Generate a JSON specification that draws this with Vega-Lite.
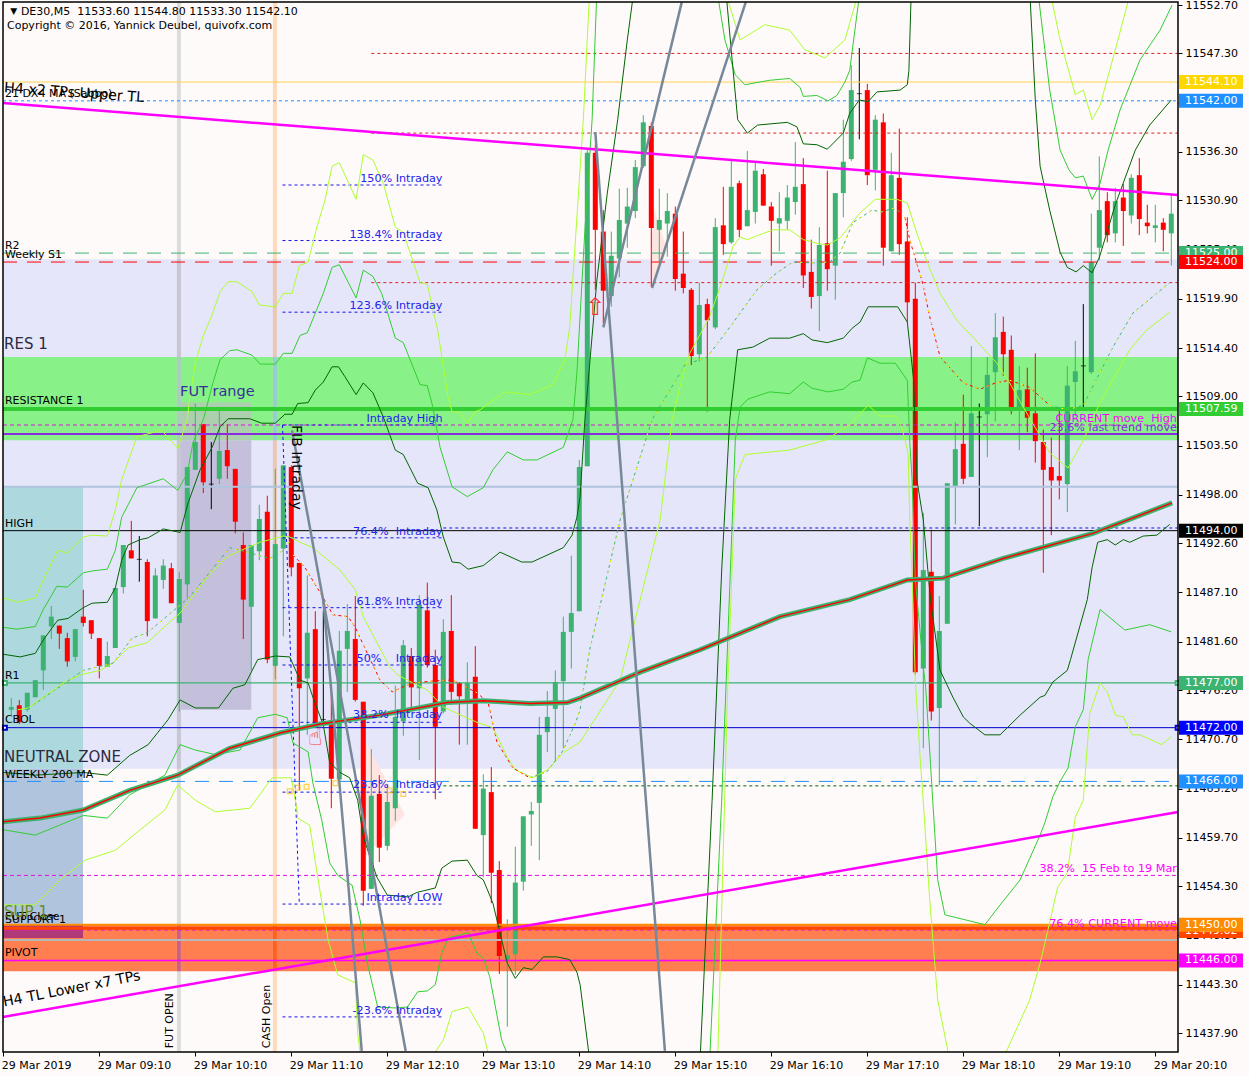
{
"$schema":"https://vega.github.io/schema/vega-lite/v6.json",
"width":1175,"height":1050,
"autosize":{"type":"none"},
"padding":{"left":3,"top":2,"right":71,"bottom":24},
"background":"#FFFAFA",
"config":{"view":{"stroke":null},"font":"DejaVu Sans","text":{"font":"DejaVu Sans"},"scale":{"continuousPadding":0}},
"datasets":{
"candles":[
{"i":1,"o":11474.0,"h":11475.3,"l":11473.4,"c":11474.3},{"i":2,"o":11474.5,"h":11475.1,"l":11472.4,"c":11472.6},{"i":3,"o":11474.0,"h":11475.9,"l":11473.8,"c":11475.9},{"i":4,"o":11475.4,"h":11477.3,"l":11475.4,"c":11477.3},{"i":5,"o":11478.4,"h":11482.3,"l":11476.2,"c":11482.3},
{"i":6,"o":11483.3,"h":11485.6,"l":11481.9,"c":11484.4},{"i":7,"o":11483.4,"h":11483.4,"l":11480.8,"c":11482.5},{"i":8,"o":11482.0,"h":11482.6,"l":11478.8,"c":11479.4},{"i":9,"o":11479.9,"h":11483.0,"l":11479.4,"c":11483.0},{"i":10,"o":11484.4,"h":11487.4,"l":11483.3,"c":11483.7},
{"i":11,"o":11484.0,"h":11484.0,"l":11481.9,"c":11482.5},{"i":12,"o":11482.0,"h":11482.0,"l":11477.5,"c":11478.9},{"i":13,"o":11478.8,"h":11481.6,"l":11478.8,"c":11480.0},{"i":14,"o":11480.9,"h":11487.6,"l":11480.9,"c":11487.6},{"i":15,"o":11487.7,"h":11492.4,"l":11487.0,"c":11492.4},
{"i":16,"o":11491.8,"h":11495.1,"l":11490.9,"c":11490.9},{"i":17,"o":11490.8,"h":11493.4,"l":11488.3,"c":11490.8},{"i":18,"o":11490.5,"h":11490.8,"l":11482.2,"c":11483.9},{"i":19,"o":11484.2,"h":11489.8,"l":11484.2,"c":11489.0},{"i":20,"o":11488.5,"h":11490.8,"l":11487.5,"c":11490.1},
{"i":21,"o":11489.8,"h":11490.4,"l":11485.9,"c":11485.9},{"i":22,"o":11483.7,"h":11489.4,"l":11473.8,"c":11488.6},{"i":23,"o":11488.0,"h":11501.1,"l":11486.3,"c":11501.1},{"i":24,"o":11500.8,"h":11508.2,"l":11500.8,"c":11503.9},{"i":25,"o":11505.9,"h":11505.9,"l":11498.2,"c":11499.4},
{"i":26,"o":11499.2,"h":11503.9,"l":11496.4,"c":11499.2},{"i":27,"o":11499.8,"h":11507.4,"l":11499.2,"c":11502.9},{"i":28,"o":11503.0,"h":11505.9,"l":11499.8,"c":11501.2},{"i":29,"o":11500.9,"h":11500.9,"l":11493.7,"c":11495.0},{"i":30,"o":11492.4,"h":11493.8,"l":11481.9,"c":11486.3},
{"i":31,"o":11485.5,"h":11492.4,"l":11478.4,"c":11492.4},{"i":32,"o":11491.7,"h":11496.9,"l":11490.7,"c":11495.3},{"i":33,"o":11496.1,"h":11497.9,"l":11479.2,"c":11479.6},{"i":34,"o":11478.9,"h":11500.9,"l":11477.4,"c":11492.5},{"i":35,"o":11492.0,"h":11501.3,"l":11482.2,"c":11501.3},
{"i":36,"o":11501.1,"h":11501.3,"l":11488.9,"c":11489.9},{"i":37,"o":11490.4,"h":11490.4,"l":11465.0,"c":11476.4},{"i":38,"o":11477.5,"h":11489.0,"l":11471.2,"c":11482.6},{"i":39,"o":11483.0,"h":11485.0,"l":11472.1,"c":11472.5},{"i":40,"o":11472.9,"h":11485.0,"l":11472.6,"c":11472.9},
{"i":41,"o":11472.8,"h":11477.0,"l":11463.0,"c":11466.3},{"i":42,"o":11466.2,"h":11482.8,"l":11465.4,"c":11480.6},{"i":43,"o":11480.8,"h":11485.8,"l":11476.0,"c":11482.8},{"i":44,"o":11481.9,"h":11486.7,"l":11474.9,"c":11475.1},{"i":45,"o":11474.9,"h":11474.9,"l":11452.1,"c":11453.8},
{"i":46,"o":11454.0,"h":11469.6,"l":11454.0,"c":11464.4},{"i":47,"o":11464.6,"h":11466.7,"l":11457.0,"c":11458.6},{"i":48,"o":11458.8,"h":11465.7,"l":11458.3,"c":11463.7},{"i":49,"o":11463.0,"h":11476.7,"l":11461.6,"c":11473.2},{"i":50,"o":11472.7,"h":11481.8,"l":11471.1,"c":11481.2},
{"i":51,"o":11480.0,"h":11480.9,"l":11474.0,"c":11476.5},{"i":52,"o":11476.4,"h":11486.8,"l":11468.4,"c":11485.7},{"i":53,"o":11485.1,"h":11488.2,"l":11478.7,"c":11479.0},{"i":54,"o":11479.0,"h":11480.7,"l":11464.0,"c":11472.1},{"i":55,"o":11473.8,"h":11484.1,"l":11473.6,"c":11482.7},
{"i":56,"o":11482.8,"h":11486.8,"l":11475.1,"c":11476.0},{"i":57,"o":11477.0,"h":11477.1,"l":11470.1,"c":11475.5},{"i":58,"o":11475.1,"h":11479.3,"l":11470.1,"c":11477.0},{"i":59,"o":11477.7,"h":11481.1,"l":11460.7,"c":11460.7},{"i":60,"o":11460.0,"h":11466.8,"l":11455.3,"c":11465.2},
{"i":61,"o":11464.8,"h":11467.6,"l":11452.4,"c":11455.8},{"i":62,"o":11456.1,"h":11457.1,"l":11444.5,"c":11446.5},{"i":63,"o":11446.1,"h":11450.6,"l":11438.6,"c":11446.6},{"i":64,"o":11446.7,"h":11458.7,"l":11444.4,"c":11454.7},{"i":65,"o":11454.8,"h":11462.1,"l":11453.8,"c":11462.1},
{"i":66,"o":11462.3,"h":11463.7,"l":11458.8,"c":11462.7},{"i":67,"o":11463.6,"h":11473.2,"l":11457.2,"c":11471.2},{"i":68,"o":11471.5,"h":11476.1,"l":11469.3,"c":11473.2},{"i":69,"o":11474.1,"h":11478.4,"l":11468.3,"c":11477.1},{"i":70,"o":11477.2,"h":11484.4,"l":11469.7,"c":11482.7},
{"i":71,"o":11482.7,"h":11491.2,"l":11478.6,"c":11484.8},{"i":72,"o":11485.0,"h":11501.9,"l":11485.0,"c":11501.1},{"i":73,"o":11501.2,"h":11536.5,"l":11501.2,"c":11536.2},{"i":74,"o":11536.2,"h":11537.1,"l":11520.9,"c":11527.6},{"i":75,"o":11527.4,"h":11529.8,"l":11517.2,"c":11520.8},
{"i":76,"o":11520.2,"h":11527.4,"l":11519.0,"c":11524.7},{"i":77,"o":11524.4,"h":11532.2,"l":11522.3,"c":11528.7},{"i":78,"o":11528.3,"h":11532.3,"l":11525.6,"c":11530.2},{"i":79,"o":11529.7,"h":11535.4,"l":11528.9,"c":11534.6},{"i":80,"o":11534.7,"h":11540.4,"l":11534.5,"c":11539.6},
{"i":81,"o":11539.2,"h":11539.6,"l":11521.2,"c":11527.8},{"i":82,"o":11527.6,"h":11532.2,"l":11523.9,"c":11528.7},{"i":83,"o":11528.3,"h":11531.7,"l":11524.6,"c":11529.7},{"i":84,"o":11529.4,"h":11530.2,"l":11520.8,"c":11522.1},{"i":85,"o":11522.7,"h":11527.4,"l":11520.5,"c":11521.1},
{"i":86,"o":11520.9,"h":11521.1,"l":11512.5,"c":11513.5},{"i":87,"o":11513.7,"h":11521.7,"l":11512.9,"c":11519.2},{"i":88,"o":11519.3,"h":11519.9,"l":11507.3,"c":11517.5},{"i":89,"o":11516.7,"h":11528.9,"l":11516.5,"c":11527.9},{"i":90,"o":11528.1,"h":11532.4,"l":11524.8,"c":11526.0},
{"i":91,"o":11526.2,"h":11535.4,"l":11526.0,"c":11532.4},{"i":92,"o":11532.8,"h":11533.1,"l":11526.8,"c":11527.6},{"i":93,"o":11528.0,"h":11536.4,"l":11528.0,"c":11529.8},{"i":94,"o":11529.6,"h":11535.1,"l":11528.3,"c":11534.2},{"i":95,"o":11533.8,"h":11534.4,"l":11530.3,"c":11530.3},
{"i":96,"o":11530.2,"h":11530.7,"l":11523.6,"c":11528.6},{"i":97,"o":11528.3,"h":11531.8,"l":11525.2,"c":11528.9},{"i":98,"o":11528.6,"h":11532.6,"l":11527.6,"c":11531.2},{"i":99,"o":11530.7,"h":11537.4,"l":11529.3,"c":11532.4},{"i":100,"o":11532.7,"h":11535.6,"l":11521.1,"c":11522.5},
{"i":101,"o":11522.9,"h":11526.5,"l":11518.8,"c":11520.1},{"i":102,"o":11520.2,"h":11527.9,"l":11516.3,"c":11525.9},{"i":103,"o":11526.1,"h":11534.2,"l":11520.8,"c":11523.2},{"i":104,"o":11523.6,"h":11531.7,"l":11519.8,"c":11531.7},{"i":105,"o":11531.7,"h":11539.9,"l":11529.0,"c":11535.2},
{"i":106,"o":11535.5,"h":11546.0,"l":11535.3,"c":11543.2},{"i":107,"o":11542.8,"h":11547.9,"l":11537.7,"c":11542.8},{"i":108,"o":11543.2,"h":11543.9,"l":11532.6,"c":11533.7},{"i":109,"o":11534.3,"h":11540.4,"l":11532.0,"c":11539.9},{"i":110,"o":11539.6,"h":11540.6,"l":11523.6,"c":11525.6},
{"i":111,"o":11525.2,"h":11536.2,"l":11525.2,"c":11533.7},{"i":112,"o":11533.4,"h":11538.9,"l":11524.8,"c":11526.0},{"i":113,"o":11526.3,"h":11529.0,"l":11517.3,"c":11519.5},{"i":114,"o":11519.9,"h":11521.7,"l":11477.9,"c":11478.2},{"i":115,"o":11478.6,"h":11496.0,"l":11469.7,"c":11489.6},
{"i":116,"o":11489.4,"h":11494.1,"l":11472.8,"c":11473.8},{"i":117,"o":11474.2,"h":11486.7,"l":11465.6,"c":11482.8},{"i":118,"o":11483.6,"h":11499.3,"l":11483.6,"c":11499.3},{"i":119,"o":11499.0,"h":11506.1,"l":11494.7,"c":11503.1},{"i":120,"o":11503.7,"h":11509.2,"l":11499.2,"c":11499.8},
{"i":121,"o":11500.0,"h":11514.6,"l":11500.0,"c":11507.1},{"i":122,"o":11506.7,"h":11508.2,"l":11494.5,"c":11506.7},{"i":123,"o":11507.0,"h":11513.4,"l":11502.2,"c":11511.4},{"i":124,"o":11511.7,"h":11518.3,"l":11506.2,"c":11515.6},{"i":125,"o":11516.2,"h":11517.9,"l":11511.3,"c":11513.7},
{"i":126,"o":11514.2,"h":11515.8,"l":11507.0,"c":11507.8},{"i":127,"o":11507.8,"h":11512.4,"l":11503.0,"c":11509.7},{"i":128,"o":11509.8,"h":11512.2,"l":11505.0,"c":11506.6},{"i":129,"o":11507.1,"h":11513.8,"l":11501.6,"c":11504.0},{"i":130,"o":11503.9,"h":11505.3,"l":11489.3,"c":11500.8},
{"i":131,"o":11501.1,"h":11504.4,"l":11493.5,"c":11499.6},{"i":132,"o":11500.1,"h":11507.7,"l":11497.5,"c":11499.6},{"i":133,"o":11499.2,"h":11512.4,"l":11496.1,"c":11510.2},{"i":134,"o":11510.6,"h":11515.2,"l":11506.8,"c":11511.8},{"i":135,"o":11512.4,"h":11519.3,"l":11507.7,"c":11512.4},
{"i":136,"o":11511.7,"h":11529.4,"l":11511.5,"c":11524.0},{"i":137,"o":11525.6,"h":11535.8,"l":11524.2,"c":11529.8},{"i":138,"o":11530.8,"h":11531.8,"l":11526.2,"c":11527.0},{"i":139,"o":11527.2,"h":11532.3,"l":11526.2,"c":11530.8},{"i":140,"o":11531.2,"h":11532.7,"l":11525.8,"c":11529.7},
{"i":141,"o":11529.2,"h":11533.8,"l":11528.3,"c":11533.4},{"i":142,"o":11533.7,"h":11535.6,"l":11527.0,"c":11528.8},{"i":143,"o":11528.4,"h":11530.4,"l":11527.2,"c":11528.0},{"i":144,"o":11527.8,"h":11530.4,"l":11526.2,"c":11528.1},{"i":145,"o":11528.4,"h":11528.9,"l":11525.2,"c":11527.6},
{"i":146,"o":11527.2,"h":11531.5,"l":11523.6,"c":11529.4}
],
"dark":[
{"s":"u","i":0,"p":11480.2},{"s":"u","i":2.1,"p":11479.9},{"s":"u","i":4,"p":11480.3},{"s":"u","i":5,"p":11481.8},{"s":"u","i":6.8,"p":11484.0},{"s":"u","i":8.1,"p":11484.2},{"s":"u","i":10,"p":11485.4},{"s":"u","i":11.1,"p":11485.9},{"s":"u","i":13,"p":11486.0},{"s":"u","i":14,"p":11487.6},{"s":"u","i":14.8,"p":11490.7},{"s":"u","i":15.6,"p":11492.4},{"s":"u","i":17.1,"p":11493.0},{"s":"u","i":18.1,"p":11493.2},{"s":"u","i":20,"p":11494.2},{"s":"u","i":22.1,"p":11493.8},{"s":"u","i":23.1,"p":11497.1},{"s":"u","i":24.6,"p":11500.8},{"s":"u","i":26.1,"p":11503.3},{"s":"u","i":27.1,"p":11505.6},{"s":"u","i":28.1,"p":11506.5},{"s":"u","i":30.8,"p":11506.5},{"s":"u","i":32.3,"p":11506.0},{"s":"u","i":34,"p":11506.0},{"s":"u","i":35.2,"p":11507.0},{"s":"u","i":36.1,"p":11507.0},{"s":"u","i":36.8,"p":11508.2},{"s":"u","i":38.1,"p":11508.3},{"s":"u","i":39,"p":11509.7},{"s":"u","i":40,"p":11510.6},{"s":"u","i":41.1,"p":11512.3},{"s":"u","i":41.9,"p":11512.3},{"s":"u","i":42.7,"p":11511.2},{"s":"u","i":44.1,"p":11509.2},{"s":"u","i":45,"p":11510.5},{"s":"u","i":46.2,"p":11509.4},{"s":"u","i":47.5,"p":11506.7},{"s":"u","i":49,"p":11503.0},{"s":"u","i":50,"p":11502.5},{"s":"u","i":51.8,"p":11499.3},{"s":"u","i":53.1,"p":11498.8},{"s":"u","i":54.2,"p":11496.3},{"s":"u","i":55,"p":11493.3},{"s":"u","i":56.1,"p":11490.5},{"s":"u","i":57.1,"p":11490.4},{"s":"u","i":58.1,"p":11489.7},{"s":"u","i":60,"p":11490.1},{"s":"u","i":62.1,"p":11491.6},{"s":"u","i":64.8,"p":11490.5},{"s":"u","i":66.1,"p":11490.5},{"s":"u","i":70,"p":11492.1},{"s":"u","i":71.1,"p":11493.5},{"s":"u","i":71.7,"p":11495.5},{"s":"u","i":72.1,"p":11497.8},{"s":"u","i":72.7,"p":11506.4},{"s":"u","i":74.2,"p":11522.0},{"s":"u","i":75.5,"p":11531.7},{"s":"u","i":76.8,"p":11539.9},{"s":"u","i":78,"p":11548.8},{"s":"u","i":79,"p":11555.5},{"s":"u","i":80.8,"p":11570},{"s":"u","i":87.1,"p":11570},{"s":"u","i":90.2,"p":11555.5},{"s":"u","i":91.1,"p":11546.6},{"s":"u","i":91.8,"p":11539.9},{"s":"u","i":93,"p":11538.4},{"s":"u","i":94.3,"p":11539.3},{"s":"u","i":98,"p":11539.6},{"s":"u","i":99.2,"p":11539.1},{"s":"u","i":100,"p":11537.2},{"s":"u","i":101.7,"p":11537.1},{"s":"u","i":103,"p":11536.6},{"s":"u","i":105,"p":11538.4},{"s":"u","i":105.8,"p":11540.6},{"s":"u","i":107,"p":11542.1},{"s":"u","i":108.1,"p":11541.9},{"s":"u","i":109.2,"p":11543.0},{"s":"u","i":112.1,"p":11543.2},{"s":"u","i":113,"p":11543.8},{"s":"u","i":113.2,"p":11545.4},{"s":"u","i":113.5,"p":11554.4},{"s":"u","i":119.6,"p":11570},{"s":"u","i":127.1,"p":11570},{"s":"u","i":128.3,"p":11554.4},{"s":"u","i":129,"p":11542.1},{"s":"u","i":129.6,"p":11534.7},{"s":"u","i":130.8,"p":11529.8},{"s":"u","i":132.1,"p":11525.1},{"s":"u","i":133,"p":11523.4},{"s":"u","i":134.1,"p":11522.9},{"s":"u","i":135,"p":11523.6},{"s":"u","i":136.1,"p":11522.8},{"s":"u","i":137,"p":11524.5},{"s":"u","i":139,"p":11530.4},{"s":"u","i":141.5,"p":11536.5},{"s":"u","i":143.3,"p":11539.3},{"s":"u","i":146,"p":11542.1},
{"s":"l","i":0,"p":11467.0},{"s":"l","i":4,"p":11466.7},{"s":"l","i":10,"p":11467.0},{"s":"l","i":13,"p":11466.7},{"s":"l","i":15.8,"p":11468.9},{"s":"l","i":18.1,"p":11470.1},{"s":"l","i":20.6,"p":11472.9},{"s":"l","i":22.1,"p":11475.1},{"s":"l","i":24,"p":11474.2},{"s":"l","i":26.9,"p":11474.2},{"s":"l","i":28.7,"p":11476.4},{"s":"l","i":30.2,"p":11476.8},{"s":"l","i":31.8,"p":11479.6},{"s":"l","i":34,"p":11480.0},{"s":"l","i":35.8,"p":11479.9},{"s":"l","i":37.1,"p":11477.3},{"s":"l","i":38.1,"p":11477.0},{"s":"l","i":38.7,"p":11475.4},{"s":"l","i":40,"p":11472.3},{"s":"l","i":40.8,"p":11468.1},{"s":"l","i":42.1,"p":11467.0},{"s":"l","i":43.3,"p":11466.4},{"s":"l","i":44.3,"p":11463.9},{"s":"l","i":45,"p":11459.8},{"s":"l","i":46.7,"p":11455.3},{"s":"l","i":48,"p":11453.3},{"s":"l","i":50.6,"p":11453.1},{"s":"l","i":51.7,"p":11453.6},{"s":"l","i":54,"p":11454.1},{"s":"l","i":54.8,"p":11456.3},{"s":"l","i":56.1,"p":11457.1},{"s":"l","i":58,"p":11457.2},{"s":"l","i":59.2,"p":11455.5},{"s":"l","i":60,"p":11455.0},{"s":"l","i":61.2,"p":11452.4},{"s":"l","i":63,"p":11445.7},{"s":"l","i":64,"p":11444.0},{"s":"l","i":65,"p":11445.2},{"s":"l","i":66.1,"p":11445.0},{"s":"l","i":67.5,"p":11446.4},{"s":"l","i":69.2,"p":11446.4},{"s":"l","i":70.8,"p":11446.1},{"s":"l","i":71.7,"p":11444.7},{"s":"l","i":72.1,"p":11443.3},{"s":"l","i":73.3,"p":11434.9},{"s":"l","i":80,"p":11420},{"s":"l","i":85,"p":11420},{"s":"l","i":87.1,"p":11434.9},{"s":"l","i":88.6,"p":11463.9},{"s":"l","i":89.8,"p":11489.6},{"s":"l","i":90.8,"p":11506.4},{"s":"l","i":91.8,"p":11514.2},{"s":"l","i":93.7,"p":11514.5},{"s":"l","i":95.8,"p":11515.5},{"s":"l","i":98.3,"p":11515.5},{"s":"l","i":100,"p":11516.0},{"s":"l","i":101.1,"p":11515.3},{"s":"l","i":103,"p":11515.0},{"s":"l","i":105,"p":11515.5},{"s":"l","i":106.1,"p":11516.6},{"s":"l","i":107.1,"p":11517.3},{"s":"l","i":108.1,"p":11519.0},{"s":"l","i":111.8,"p":11519.0},{"s":"l","i":113,"p":11517.3},{"s":"l","i":113.8,"p":11510.8},{"s":"l","i":114.2,"p":11499.7},{"s":"l","i":115,"p":11495.2},{"s":"l","i":115.9,"p":11486.3},{"s":"l","i":117.1,"p":11478.4},{"s":"l","i":118.7,"p":11475.4},{"s":"l","i":120,"p":11473.2},{"s":"l","i":120.8,"p":11472.5},{"s":"l","i":122.7,"p":11471.2},{"s":"l","i":124.6,"p":11471.2},{"s":"l","i":127.1,"p":11473.4},{"s":"l","i":129.6,"p":11475.4},{"s":"l","i":130.2,"p":11475.6},{"s":"l","i":131.2,"p":11477.1},{"s":"l","i":133,"p":11478.4},{"s":"l","i":133.4,"p":11479.6},{"s":"l","i":135.5,"p":11486.3},{"s":"l","i":136.1,"p":11489.9},{"s":"l","i":136.8,"p":11492.7},{"s":"l","i":138,"p":11493.0},{"s":"l","i":139,"p":11492.4},{"s":"l","i":140,"p":11493.0},{"s":"l","i":140.8,"p":11492.7},{"s":"l","i":142.5,"p":11493.4},{"s":"l","i":144.2,"p":11493.5},{"s":"l","i":145.8,"p":11494.7}
],
"medium":[
{"s":"u","i":0,"p":11483.2},{"s":"u","i":1.7,"p":11483.0},{"s":"u","i":4,"p":11483.3},{"s":"u","i":5,"p":11485.2},{"s":"u","i":6.7,"p":11487.8},{"s":"u","i":8,"p":11487.7},{"s":"u","i":10,"p":11489.3},{"s":"u","i":11.1,"p":11489.5},{"s":"u","i":13,"p":11489.7},{"s":"u","i":14,"p":11491.8},{"s":"u","i":14.8,"p":11495.5},{"s":"u","i":16.7,"p":11498.8},{"s":"u","i":20,"p":11499.8},{"s":"u","i":21.8,"p":11498.5},{"s":"u","i":23,"p":11500.4},{"s":"u","i":23.7,"p":11503.8},{"s":"u","i":25,"p":11506.4},{"s":"u","i":26.2,"p":11510.5},{"s":"u","i":27.1,"p":11513.1},{"s":"u","i":28.3,"p":11514.1},{"s":"u","i":29.2,"p":11514.2},{"s":"u","i":31.1,"p":11513.6},{"s":"u","i":32.1,"p":11512.6},{"s":"u","i":34,"p":11512.6},{"s":"u","i":35,"p":11513.8},{"s":"u","i":36.1,"p":11513.8},{"s":"u","i":37.1,"p":11515.8},{"s":"u","i":38,"p":11516.1},{"s":"u","i":40,"p":11520.5},{"s":"u","i":41.1,"p":11523.4},{"s":"u","i":42,"p":11523.7},{"s":"u","i":44.1,"p":11520.0},{"s":"u","i":45,"p":11523.1},{"s":"u","i":46.2,"p":11522.4},{"s":"u","i":47.3,"p":11520.5},{"s":"u","i":49,"p":11515.5},{"s":"u","i":50,"p":11515.0},{"s":"u","i":52.1,"p":11510.3},{"s":"u","i":53,"p":11510.2},{"s":"u","i":53.7,"p":11507.8},{"s":"u","i":54.6,"p":11503.3},{"s":"u","i":56.1,"p":11498.9},{"s":"u","i":58,"p":11497.8},{"s":"u","i":60,"p":11498.8},{"s":"u","i":61.2,"p":11500.8},{"s":"u","i":63,"p":11502.8},{"s":"u","i":65,"p":11501.9},{"s":"u","i":66.7,"p":11501.9},{"s":"u","i":70,"p":11503.3},{"s":"u","i":71.2,"p":11506.4},{"s":"u","i":71.7,"p":11511.6},{"s":"u","i":72.7,"p":11527.6},{"s":"u","i":73.6,"p":11539.9},{"s":"u","i":74.2,"p":11554.4},{"s":"u","i":77.1,"p":11570},{"s":"u","i":87.1,"p":11570},{"s":"u","i":89,"p":11555.5},{"s":"u","i":90.2,"p":11548.8},{"s":"u","i":91.5,"p":11544.9},{"s":"u","i":92.7,"p":11543.8},{"s":"u","i":95.8,"p":11544.3},{"s":"u","i":98.3,"p":11544.5},{"s":"u","i":99.6,"p":11543.5},{"s":"u","i":100,"p":11542.5},{"s":"u","i":101.7,"p":11542.6},{"s":"u","i":103.1,"p":11542.0},{"s":"u","i":104.2,"p":11542.6},{"s":"u","i":105.2,"p":11544.1},{"s":"u","i":105.8,"p":11545.4},{"s":"u","i":107.1,"p":11554.4},{"s":"u","i":112.1,"p":11570},{"s":"u","i":128.3,"p":11570},{"s":"u","i":129.3,"p":11554.4},{"s":"u","i":130.8,"p":11543.2},{"s":"u","i":132.1,"p":11536.5},{"s":"u","i":133.2,"p":11534.3},{"s":"u","i":134,"p":11533.4},{"s":"u","i":135,"p":11533.6},{"s":"u","i":136.1,"p":11531.0},{"s":"u","i":137.1,"p":11532.8},{"s":"u","i":138.1,"p":11536.5},{"s":"u","i":139.6,"p":11541.0},{"s":"u","i":142.1,"p":11546.6},{"s":"u","i":144.6,"p":11549.9},{"s":"u","i":146.1,"p":11552.7},
{"s":"l","i":0,"p":11460.6},{"s":"l","i":4,"p":11460.0},{"s":"l","i":10,"p":11462.2},{"s":"l","i":13,"p":11461.9},{"s":"l","i":15.8,"p":11464.5},{"s":"l","i":20.2,"p":11466.7},{"s":"l","i":22.1,"p":11470.1},{"s":"l","i":24,"p":11469.5},{"s":"l","i":26.5,"p":11469.0},{"s":"l","i":29.6,"p":11469.5},{"s":"l","i":31.8,"p":11473.1},{"s":"l","i":34,"p":11473.5},{"s":"l","i":35.5,"p":11473.1},{"s":"l","i":36.2,"p":11470.3},{"s":"l","i":38.1,"p":11469.3},{"s":"l","i":38.7,"p":11465.8},{"s":"l","i":39.8,"p":11461.7},{"s":"l","i":40.8,"p":11456.9},{"s":"l","i":41.8,"p":11455.5},{"s":"l","i":43.6,"p":11454.4},{"s":"l","i":44.6,"p":11450.5},{"s":"l","i":45.5,"p":11445.7},{"s":"l","i":46.8,"p":11440.8},{"s":"l","i":49,"p":11440.7},{"s":"l","i":50.5,"p":11440.8},{"s":"l","i":51.8,"p":11442.5},{"s":"l","i":53,"p":11442.6},{"s":"l","i":54,"p":11443.3},{"s":"l","i":54.8,"p":11446.8},{"s":"l","i":55.6,"p":11448.5},{"s":"l","i":58.1,"p":11449.1},{"s":"l","i":59.2,"p":11446.8},{"s":"l","i":60,"p":11446.3},{"s":"l","i":60.8,"p":11444.2},{"s":"l","i":62.3,"p":11437.1},{"s":"l","i":63.3,"p":11434.9},{"s":"l","i":68.3,"p":11420},{"s":"l","i":85.8,"p":11420},{"s":"l","i":88.3,"p":11434.9},{"s":"l","i":89.8,"p":11463.9},{"s":"l","i":91.5,"p":11504.1},{"s":"l","i":92.1,"p":11507.8},{"s":"l","i":93.1,"p":11508.7},{"s":"l","i":95.8,"p":11509.5},{"s":"l","i":98.3,"p":11509.3},{"s":"l","i":100,"p":11510.6},{"s":"l","i":101.1,"p":11509.9},{"s":"l","i":103.1,"p":11509.5},{"s":"l","i":105,"p":11509.8},{"s":"l","i":106.1,"p":11510.6},{"s":"l","i":107.1,"p":11510.8},{"s":"l","i":108,"p":11513.3},{"s":"l","i":109.6,"p":11512.7},{"s":"l","i":111.5,"p":11512.7},{"s":"l","i":113,"p":11510.8},{"s":"l","i":113.3,"p":11504.1},{"s":"l","i":113.6,"p":11499.7},{"s":"l","i":114,"p":11488.5},{"s":"l","i":115,"p":11478.8},{"s":"l","i":115.3,"p":11476.5},{"s":"l","i":115.9,"p":11468.0},{"s":"l","i":116.1,"p":11465.0},{"s":"l","i":116.8,"p":11455.0},{"s":"l","i":117.7,"p":11451.1},{"s":"l","i":122.7,"p":11450.0},{"s":"l","i":124.6,"p":11452.2},{"s":"l","i":127.1,"p":11455.0},{"s":"l","i":129.6,"p":11460.0},{"s":"l","i":130.2,"p":11461.4},{"s":"l","i":131.2,"p":11464.3},{"s":"l","i":132.1,"p":11466.0},{"s":"l","i":133.1,"p":11467.5},{"s":"l","i":134,"p":11472.1},{"s":"l","i":135,"p":11474.0},{"s":"l","i":135.6,"p":11479.6},{"s":"l","i":137.1,"p":11485.2},{"s":"l","i":140.2,"p":11482.9},{"s":"l","i":143.3,"p":11483.5},{"s":"l","i":146,"p":11482.7}
],
"lime":[
{"s":"u","i":0,"p":11486.5},{"s":"u","i":1.8,"p":11486.0},{"s":"u","i":4,"p":11486.5},{"s":"u","i":5,"p":11488.5},{"s":"u","i":6.8,"p":11491.8},{"s":"u","i":8,"p":11491.5},{"s":"u","i":10,"p":11493.3},{"s":"u","i":11.1,"p":11493.5},{"s":"u","i":13,"p":11493.4},{"s":"u","i":14,"p":11496.3},{"s":"u","i":14.8,"p":11499.7},{"s":"u","i":16.7,"p":11504.5},{"s":"u","i":19.8,"p":11505.2},{"s":"u","i":21.8,"p":11503.2},{"s":"u","i":23,"p":11506.4},{"s":"u","i":23.3,"p":11508.9},{"s":"u","i":24,"p":11512.7},{"s":"u","i":25,"p":11515.8},{"s":"u","i":26.1,"p":11518.1},{"s":"u","i":27.1,"p":11520.7},{"s":"u","i":28.1,"p":11521.8},{"s":"u","i":29.2,"p":11521.8},{"s":"u","i":31.1,"p":11520.7},{"s":"u","i":32,"p":11519.2},{"s":"u","i":34,"p":11519.0},{"s":"u","i":35,"p":11520.5},{"s":"u","i":36.1,"p":11520.5},{"s":"u","i":37,"p":11523.6},{"s":"u","i":38.1,"p":11524.0},{"s":"u","i":39.2,"p":11527.9},{"s":"u","i":40.2,"p":11530.9},{"s":"u","i":41.1,"p":11534.7},{"s":"u","i":42,"p":11535.1},{"s":"u","i":44.1,"p":11531.0},{"s":"u","i":45,"p":11536.0},{"s":"u","i":46.2,"p":11535.4},{"s":"u","i":47.5,"p":11532.8},{"s":"u","i":49,"p":11527.9},{"s":"u","i":50,"p":11527.3},{"s":"u","i":52.1,"p":11521.7},{"s":"u","i":53,"p":11521.5},{"s":"u","i":54.3,"p":11516.4},{"s":"u","i":55.6,"p":11508.9},{"s":"u","i":56.1,"p":11507.3},{"s":"u","i":57.1,"p":11507.2},{"s":"u","i":58,"p":11506.0},{"s":"u","i":59,"p":11507.3},{"s":"u","i":59.6,"p":11507.5},{"s":"u","i":62.7,"p":11509.5},{"s":"u","i":65.8,"p":11509.2},{"s":"u","i":68.7,"p":11510.3},{"s":"u","i":70.2,"p":11513.1},{"s":"u","i":70.8,"p":11516.7},{"s":"u","i":72.5,"p":11539.9},{"s":"u","i":73.3,"p":11554.4},{"s":"u","i":77.1,"p":11570},{"s":"u","i":87.1,"p":11570},{"s":"u","i":89.8,"p":11555.5},{"s":"u","i":92.1,"p":11548.8},{"s":"u","i":95.2,"p":11550.5},{"s":"u","i":98.3,"p":11549.9},{"s":"u","i":100.2,"p":11547.7},{"s":"u","i":102.7,"p":11546.8},{"s":"u","i":105.2,"p":11548.8},{"s":"u","i":106.8,"p":11553.8},{"s":"u","i":112.1,"p":11570},{"s":"u","i":128.3,"p":11570},{"s":"u","i":130.8,"p":11554.4},{"s":"u","i":132.1,"p":11548.8},{"s":"u","i":134,"p":11542.7},{"s":"u","i":135,"p":11543.2},{"s":"u","i":136.1,"p":11539.9},{"s":"u","i":137.1,"p":11541.5},{"s":"u","i":139,"p":11547.7},{"s":"u","i":140.8,"p":11553.8},
{"s":"l","i":0,"p":11452.2},{"s":"l","i":4,"p":11452.2},{"s":"l","i":7.1,"p":11455.0},{"s":"l","i":10.2,"p":11457.2},{"s":"l","i":14,"p":11458.3},{"s":"l","i":17.1,"p":11460.6},{"s":"l","i":20.2,"p":11462.8},{"s":"l","i":21.8,"p":11465.6},{"s":"l","i":24,"p":11463.9},{"s":"l","i":26.5,"p":11462.6},{"s":"l","i":30.8,"p":11463.0},{"s":"l","i":33.6,"p":11466.4},{"s":"l","i":36,"p":11466.4},{"s":"l","i":36.7,"p":11462.8},{"s":"l","i":36.8,"p":11461.9},{"s":"l","i":38.3,"p":11461.1},{"s":"l","i":39.3,"p":11455.3},{"s":"l","i":40.6,"p":11448.3},{"s":"l","i":41.8,"p":11444.4},{"s":"l","i":44,"p":11443.5},{"s":"l","i":44.3,"p":11437.9},{"s":"l","i":44.7,"p":11434.9},{"s":"l","i":49.6,"p":11420},{"s":"l","i":53.3,"p":11434.9},{"s":"l","i":55,"p":11437.1},{"s":"l","i":56.1,"p":11440.3},{"s":"l","i":58.1,"p":11440.8},{"s":"l","i":60,"p":11437.9},{"s":"l","i":60.8,"p":11434.9},{"s":"l","i":74.6,"p":11420},{"s":"l","i":89.3,"p":11434.9},{"s":"l","i":90.5,"p":11475.1},{"s":"l","i":91.5,"p":11499.7},{"s":"l","i":92.7,"p":11502.5},{"s":"l","i":98.3,"p":11503.0},{"s":"l","i":102.7,"p":11504.1},{"s":"l","i":105.8,"p":11505.8},{"s":"l","i":108.1,"p":11508.0},{"s":"l","i":109.6,"p":11506.8},{"s":"l","i":111.5,"p":11506.8},{"s":"l","i":112.3,"p":11505.6},{"s":"l","i":113.1,"p":11502.7},{"s":"l","i":113.3,"p":11495.5},{"s":"l","i":113.7,"p":11486.3},{"s":"l","i":114,"p":11477.3},{"s":"l","i":114.6,"p":11468.7},{"s":"l","i":114.9,"p":11465.0},{"s":"l","i":115.8,"p":11452.8},{"s":"l","i":116.8,"p":11441.6},{"s":"l","i":118.3,"p":11434.9},{"s":"l","i":124.6,"p":11434.3},{"s":"l","i":128.3,"p":11441.6},{"s":"l","i":129.6,"p":11445.7},{"s":"l","i":130.5,"p":11449.1},{"s":"l","i":131.8,"p":11454.2},{"s":"l","i":133,"p":11455.8},{"s":"l","i":134,"p":11462.0},{"s":"l","i":135,"p":11463.9},{"s":"l","i":135.8,"p":11473.6},{"s":"l","i":137.1,"p":11477.0},{"s":"l","i":138,"p":11476.0},{"s":"l","i":139,"p":11473.4},{"s":"l","i":140,"p":11473.2},{"s":"l","i":141.1,"p":11471.2},{"s":"l","i":142.1,"p":11471.2},{"s":"l","i":144.8,"p":11470.1},{"s":"l","i":146,"p":11471.0},
{"s":"m","i":1.8,"p":11474.0},{"s":"m","i":3.1,"p":11474.2},{"s":"m","i":5,"p":11475.4},{"s":"m","i":7.5,"p":11477.0},{"s":"m","i":9.6,"p":11477.9},{"s":"m","i":12.1,"p":11478.4},{"s":"m","i":13.7,"p":11479.2},{"s":"m","i":15.6,"p":11480.9},{"s":"m","i":18,"p":11481.5},{"s":"m","i":20.8,"p":11483.8},{"s":"m","i":22.1,"p":11484.8},{"s":"m","i":25.5,"p":11488.8},{"s":"m","i":28,"p":11491.1},{"s":"m","i":29.2,"p":11491.6},{"s":"m","i":32.1,"p":11492.7},{"s":"m","i":35,"p":11493.4},{"s":"m","i":35.8,"p":11493.3},{"s":"m","i":37.1,"p":11492.7},{"s":"m","i":38.7,"p":11492.1},{"s":"m","i":42.1,"p":11489.6},{"s":"m","i":44,"p":11487.4},{"s":"m","i":45,"p":11484.4},{"s":"m","i":48.3,"p":11478.8},{"s":"m","i":49.3,"p":11477.9},{"s":"m","i":51.2,"p":11477.0},{"s":"m","i":53,"p":11476.2},{"s":"m","i":55,"p":11474.3},{"s":"m","i":56.7,"p":11473.6},{"s":"m","i":59.2,"p":11472.6},{"s":"m","i":61.2,"p":11472.0},{"s":"m","i":63,"p":11468.7},{"s":"m","i":64,"p":11467.3},{"s":"m","i":66.2,"p":11466.4},{"s":"m","i":68,"p":11467.3},{"s":"m","i":70,"p":11469.2},{"s":"m","i":72.1,"p":11470.4},{"s":"m","i":77.1,"p":11477.3},{"s":"m","i":82.1,"p":11495.2},{"s":"m","i":83.6,"p":11506.4},{"s":"m","i":84.9,"p":11511.2},{"s":"m","i":85.8,"p":11513.8},{"s":"m","i":88.3,"p":11517.9},{"s":"m","i":89.8,"p":11521.7},{"s":"m","i":91.2,"p":11525.7},{"s":"m","i":92.1,"p":11526.8},{"s":"m","i":93,"p":11526.5},{"s":"m","i":95,"p":11527.2},{"s":"m","i":96.2,"p":11527.6},{"s":"m","i":98.3,"p":11527.6},{"s":"m","i":100,"p":11526.5},{"s":"m","i":101.7,"p":11526.1},{"s":"m","i":103,"p":11525.9},{"s":"m","i":104.6,"p":11526.7},{"s":"m","i":107.1,"p":11529.5},{"s":"m","i":109,"p":11531.0},{"s":"m","i":111.7,"p":11531.0},{"s":"m","i":113,"p":11530.6},{"s":"m","i":114.2,"p":11527.2},{"s":"m","i":115.6,"p":11523.7},{"s":"m","i":117.1,"p":11520.5},{"s":"m","i":119.2,"p":11517.5},{"s":"m","i":121.2,"p":11515.6},{"s":"m","i":124.2,"p":11512.7},{"s":"m","i":125.8,"p":11510.5},{"s":"m","i":127.5,"p":11507.8},{"s":"m","i":129.2,"p":11505.2},{"s":"m","i":130.8,"p":11502.7},{"s":"m","i":133.1,"p":11501.0},{"s":"m","i":135,"p":11504.1},{"s":"m","i":137.1,"p":11508.3},{"s":"m","i":140.8,"p":11514.2},{"s":"m","i":142.9,"p":11516.4},{"s":"m","i":145.8,"p":11518.4}
],
"dash":[
{"s":"g1","i":3.7,"p":11474.5},{"s":"g1","i":10,"p":11478.4},{"s":"g1","i":13.7,"p":11479.2},{"s":"g1","i":16.1,"p":11482.0},{"s":"g1","i":18,"p":11482.6},{"s":"g1","i":23.3,"p":11486.6},{"s":"g1","i":28.3,"p":11492.1},{"s":"g1","i":30.5,"p":11491.6},{"s":"g1","i":33.3,"p":11490.9},{"s":"g1","i":35,"p":11491.8},{"s":"g1","i":36.2,"p":11493.3},
{"s":"r1","i":36.2,"p":11491.3},{"s":"r1","i":37.7,"p":11489.9},{"s":"r1","i":40,"p":11486.5},{"s":"r1","i":41.2,"p":11484.6},{"s":"r1","i":43.1,"p":11484.4},{"s":"r1","i":44,"p":11483.2},{"s":"r1","i":45.5,"p":11480.3},{"s":"r1","i":47.1,"p":11477.3},{"s":"r1","i":48.6,"p":11476.0},{"s":"r1","i":51.1,"p":11477.0},{"s":"r1","i":55,"p":11477.3},{"s":"r1","i":56.2,"p":11477.3},{"s":"r1","i":59.2,"p":11475.9},{"s":"r1","i":60.6,"p":11474.8},{"s":"r1","i":61.7,"p":11470.4},{"s":"r1","i":63.7,"p":11467.5},{"s":"r1","i":65.8,"p":11466.4},
{"s":"g2","i":65.8,"p":11466.4},{"s":"g2","i":68,"p":11467.1},{"s":"g2","i":70,"p":11469.5},{"s":"g2","i":71.5,"p":11472.5},{"s":"g2","i":72.1,"p":11474.0},{"s":"g2","i":73.3,"p":11480.7},{"s":"g2","i":77.1,"p":11495.2},{"s":"g2","i":81.1,"p":11506.4},{"s":"g2","i":85.2,"p":11512.5},{"s":"g2","i":88,"p":11513.4},{"s":"g2","i":90.8,"p":11516.7},{"s":"g2","i":94.2,"p":11520.9},{"s":"g2","i":96.7,"p":11522.8},{"s":"g2","i":98.7,"p":11524.0},{"s":"g2","i":101.2,"p":11523.9},{"s":"g2","i":103.3,"p":11524.0},{"s":"g2","i":104.6,"p":11525.0},{"s":"g2","i":106.2,"p":11528.4},{"s":"g2","i":108.6,"p":11529.8},{"s":"g2","i":109.8,"p":11529.6},{"s":"g2","i":111.2,"p":11530.0},{"s":"g2","i":112.1,"p":11529.6},
{"s":"r2","i":112.7,"p":11529.0},{"s":"r2","i":113.3,"p":11526.5},{"s":"r2","i":114.9,"p":11521.7},{"s":"r2","i":115.8,"p":11517.9},{"s":"r2","i":117.1,"p":11513.4},{"s":"r2","i":120,"p":11510.5},{"s":"r2","i":122.1,"p":11509.8},{"s":"r2","i":124,"p":11510.5},{"s":"r2","i":125.8,"p":11510.8},{"s":"r2","i":128.3,"p":11510.0},{"s":"r2","i":130.8,"p":11508.0},
{"s":"g3","i":130.8,"p":11508.0},{"s":"g3","i":133,"p":11507.5},{"s":"g3","i":135,"p":11508.0},{"s":"g3","i":138.7,"p":11514.5},{"s":"g3","i":141.2,"p":11518.3},{"s":"g3","i":145.8,"p":11521.7}
],
"ma200":[
{"i":0,"p":11461.5},{"i":4.6,"p":11461.9},{"i":10,"p":11462.8},{"i":15.8,"p":11465.0},{"i":21.8,"p":11466.7},{"i":28.3,"p":11469.7},{"i":34.6,"p":11471.4},{"i":39.6,"p":11472.4},{"i":47.1,"p":11473.4},{"i":55.5,"p":11474.8},{"i":60,"p":11475.0},{"i":65.8,"p":11474.7},{"i":70.5,"p":11474.8},{"i":72.1,"p":11475.3},{"i":79.6,"p":11478.2},{"i":87.1,"p":11480.7},{"i":97.1,"p":11484.4},{"i":105.8,"p":11486.3},{"i":113,"p":11488.5},{"i":117.5,"p":11488.7},{"i":125,"p":11490.9},{"i":136.2,"p":11493.7},{"i":146.1,"p":11497.1}
]
},
"encoding":{
"x":{"field":"i","type":"quantitative","title":null,"scale":{"domain":[-0.0375,146.8375],"nice":false,"zero":false,"padding":0},
"axis":{"values":[0,12,24,36,48,60,72,84,96,108,120,132,144],"grid":false,"domain":false,"tickColor":"#000000","tickSize":4,"labelColor":"#000000","labelFont":"DejaVu Sans","labelFontSize":11,"labelAlign":"left","labelPadding":3,"labelOffset":-2,"labelOverlap":false,"labelFlush":false,"labelBound":false,
"labelExpr":"['29 Mar 2019','29 Mar 09:10','29 Mar 10:10','29 Mar 11:10','29 Mar 12:10','29 Mar 13:10','29 Mar 14:10','29 Mar 15:10','29 Mar 16:10','29 Mar 17:10','29 Mar 18:10','29 Mar 19:10','29 Mar 20:10'][datum.value/12]"}},
"y":{"field":"p","type":"quantitative","title":null,"scale":{"domain":[11435.78,11553.04],"nice":false,"zero":false,"padding":0},
"axis":{"orient":"right","values":[11552.7,11547.3,11541.8,11536.3,11530.9,11525.4,11519.9,11514.4,11509.0,11503.5,11498.0,11492.6,11487.1,11481.6,11476.2,11470.7,11465.2,11459.7,11454.3,11448.8,11443.3,11437.9],"format":".2f","grid":false,"domain":false,"tickColor":"#000000","tickSize":4,"labelColor":"#000000","labelFont":"DejaVu Sans","labelFontSize":11,"labelPadding":3,"labelOverlap":false,"labelBound":false}}
},
"resolve":{"scale":{"color":"independent"}},
"layer":[
{"data":{"values":[
{"i":-0.04,"i2":146.84,"p":11524.3,"p2":11467.4,"z":"lav"},
{"i":-0.04,"i2":146.84,"p":11513.4,"p2":11504.1,"z":"green"},
{"i":-0.04,"i2":146.84,"p":11450.0,"p2":11444.8,"z":"coral"},
{"i":-0.04,"i2":9.96,"p":11498.9,"p2":11467.4,"z":"teal"},
{"i":-0.04,"i2":9.96,"p":11467.4,"p2":11450.0,"z":"steel"},
{"i":-0.04,"i2":9.96,"p":11450.0,"p2":11448.5,"z":"plum"},
{"i":21.7,"i2":31.0,"p":11504.1,"p2":11474.0,"z":"box"},
{"i":21.7,"i2":31.0,"p":11508.3,"p2":11504.1,"z":"boxgreen"},
{"i":21.7,"i2":22.2,"p":11553.04,"p2":11435.78,"z":"fo"},
{"i":21.7,"i2":22.2,"p":11524.3,"p2":11467.4,"z":"folav"},
{"i":21.7,"i2":22.2,"p":11513.4,"p2":11504.1,"z":"fogreen"},
{"i":21.7,"i2":22.2,"p":11450.0,"p2":11444.8,"z":"focoral"},
{"i":33.7,"i2":34.2,"p":11553.04,"p2":11435.78,"z":"co"},
{"i":33.7,"i2":34.2,"p":11524.3,"p2":11467.4,"z":"colav"},
{"i":33.7,"i2":34.2,"p":11513.4,"p2":11504.1,"z":"cogreen"},
{"i":33.7,"i2":34.2,"p":11450.0,"p2":11444.8,"z":"cocoral"}
]},
"mark":{"type":"rect"},
"encoding":{"x2":{"field":"i2"},"y2":{"field":"p2"},
"color":{"field":"z","type":"nominal","legend":null,"scale":{
"domain":["lav","green","coral","teal","steel","plum","box","boxgreen","fo","folav","fogreen","focoral","co","colav","cogreen","cocoral"],
"range":["#E6E6FA","#88F288","#FF7F50","#ADD8DE","#B0C4DE","#B03A78","#C4C0DC","#ACD0AE","#DCDCDC","#C6C6D4","#A8D0B8","#CF5F80","#FFDAB9","#E8C8B8","#8FD0D0","#FF6020"]}}}},
{"data":{"values":[
{"s":"a","i":44.8,"p":11471.2,"p2":11457.2},{"s":"a","i":50.2,"p":11462.3,"p2":11462.3},
{"s":"b","i":81,"p":11530.9,"p2":11521.1},{"s":"b","i":83,"p":11525.3,"p2":11525.3}
]},
"mark":{"type":"area","color":"#FFE4E1"},
"encoding":{"y2":{"field":"p2"},"detail":{"field":"s"}}},
{"data":{"name":"candles"},
"transform":[{"calculate":"datum.h","as":"p"}],
"mark":{"type":"rule","strokeWidth":1},
"encoding":{"y2":{"field":"l"},
"color":{"condition":[{"test":"datum.c==datum.o","value":"#000000"},{"test":"datum.c>datum.o","value":"#3CB371"}],"value":"#FF0000"}}},
{"data":{"name":"candles"},
"transform":[{"filter":"datum.c!=datum.o"},{"calculate":"datum.o","as":"p"}],
"mark":{"type":"bar","size":5},
"encoding":{"y2":{"field":"c"},
"color":{"condition":{"test":"datum.c>datum.o","value":"#3CB371"},"value":"#FF0000"}}},
{"data":{"name":"candles"},
"transform":[{"filter":"datum.c==datum.o"},{"calculate":"datum.c","as":"p"}],
"mark":{"type":"tick","orient":"horizontal","size":5,"thickness":1,"color":"#000000"}},
{"data":{"values":[{"i":-0.04,"i2":146.84,"p":11544.1}]},"mark":{"type":"rule","color":"#FFD24D","strokeWidth":1},"encoding":{"x2":{"field":"i2"}}},
{"data":{"values":[{"i":-0.04,"i2":146.84,"p":11542.0}]},"mark":{"type":"rule","color":"#1E90FF","strokeWidth":1,"strokeDash":[3,3]},"encoding":{"x2":{"field":"i2"}}},
{"data":{"values":[{"i":46,"i2":146.84,"p":11547.3},{"i":46,"i2":146.84,"p":11538.4},{"i":46,"i2":146.84,"p":11521.7}]},"mark":{"type":"rule","color":"#E02020","strokeWidth":1,"strokeDash":[3,3]},"encoding":{"x2":{"field":"i2"}}},
{"data":{"values":[{"i":-0.04,"i2":146.84,"p":11525.0}]},"mark":{"type":"rule","color":"#3CB371","strokeWidth":1,"strokeDash":[14,10]},"encoding":{"x2":{"field":"i2"}}},
{"data":{"values":[{"i":-0.04,"i2":146.84,"p":11524.0}]},"mark":{"type":"rule","color":"#FF0000","strokeWidth":1,"strokeDash":[14,10]},"encoding":{"x2":{"field":"i2"}}},
{"data":{"values":[{"i":-0.04,"i2":146.84,"p":11507.59}]},"mark":{"type":"rule","color":"#32CD32","strokeWidth":4},"encoding":{"x2":{"field":"i2"}}},
{"data":{"values":[{"i":-0.04,"i2":146.84,"p":11505.8},{"i":-0.04,"i2":146.84,"p":11455.5},{"i":-0.04,"i2":146.84,"p":11449.4}]},"mark":{"type":"rule","color":"#E010E0","strokeWidth":1,"strokeDash":[4,3]},"encoding":{"x2":{"field":"i2"}}},
{"data":{"values":[{"i":-0.04,"i2":146.84,"p":11504.8}]},"mark":{"type":"rule","color":"#8A2BE2","strokeWidth":2},"encoding":{"x2":{"field":"i2"}}},
{"data":{"values":[{"i":-0.04,"i2":146.84,"p":11498.9}]},"mark":{"type":"rule","color":"#B0C4DE","strokeWidth":2},"encoding":{"x2":{"field":"i2"}}},
{"data":{"values":[{"i":-0.04,"i2":146.84,"p":11494.0}]},"mark":{"type":"rule","color":"#000000","strokeWidth":1},"encoding":{"x2":{"field":"i2"}}},
{"data":{"values":[{"i":-0.04,"i2":146.84,"p":11477.0}]},"mark":{"type":"rule","color":"#3CB371","strokeWidth":1.2},"encoding":{"x2":{"field":"i2"}}},
{"data":{"values":[{"i":-0.04,"i2":146.84,"p":11472.0}]},"mark":{"type":"rule","color":"#0000CD","strokeWidth":1},"encoding":{"x2":{"field":"i2"}}},
{"data":{"values":[{"i":-0.04,"i2":146.84,"p":11466.0}]},"mark":{"type":"rule","color":"#1E90FF","strokeWidth":1,"strokeDash":[14,10]},"encoding":{"x2":{"field":"i2"}}},
{"data":{"values":[{"i":55,"i2":146.84,"p":11465.5}]},"mark":{"type":"rule","color":"#006400","strokeWidth":1,"strokeDash":[3,3]},"encoding":{"x2":{"field":"i2"}}},
{"data":{"values":[{"i":-0.04,"i2":146.84,"p":11450.0}]},"mark":{"type":"rule","color":"#FF8C00","strokeWidth":2},"encoding":{"x2":{"field":"i2"}}},
{"data":{"values":[{"i":-0.04,"i2":146.84,"p":11449.6}]},"mark":{"type":"rule","color":"#FF4500","strokeWidth":3},"encoding":{"x2":{"field":"i2"}}},
{"data":{"values":[{"i":-0.04,"i2":146.84,"p":11448.3}]},"mark":{"type":"rule","color":"#B8B8B8","strokeWidth":2},"encoding":{"x2":{"field":"i2"}}},
{"data":{"values":[{"i":-0.04,"i2":146.84,"p":11446.0}]},"mark":{"type":"rule","color":"#FF00FF","strokeWidth":1.5},"encoding":{"x2":{"field":"i2"}}},
{"data":{"values":[
{"i":34.9,"i2":55,"p":11532.6},{"i":34.9,"i2":55,"p":11526.4},{"i":34.9,"i2":55,"p":11518.4},{"i":34.9,"i2":55,"p":11505.8},{"i":34.9,"i2":55,"p":11493.2},{"i":55,"i2":146.84,"p":11494.3},{"i":34.9,"i2":55,"p":11485.4},{"i":34.9,"i2":55,"p":11479.0},{"i":34.9,"i2":55,"p":11472.6},{"i":34.9,"i2":55,"p":11464.8},{"i":34.9,"i2":55,"p":11452.3},{"i":34.9,"i2":55,"p":11439.7}
]},"mark":{"type":"rule","color":"#1414E6","strokeWidth":1,"strokeDash":[3,3]},"encoding":{"x2":{"field":"i2"}}},
{"data":{"values":[{"i":34.9,"p":11505.8},{"i":37,"p":11452.3}]},"mark":{"type":"line","color":"#1414E6","strokeWidth":1,"strokeDash":[3,3]},"encoding":{}},
{"data":{"name":"lime"},"mark":{"type":"line","color":"#ADFF2F","strokeWidth":1,"clip":true},"encoding":{"detail":{"field":"s"}}},
{"data":{"name":"medium"},"mark":{"type":"line","color":"#32CD32","strokeWidth":1,"clip":true},"encoding":{"detail":{"field":"s"}}},
{"data":{"name":"dark"},"mark":{"type":"line","color":"#006400","strokeWidth":1,"clip":true},"encoding":{"detail":{"field":"s"}}},
{"data":{"name":"dash"},"transform":[{"filter":"test(/^g/,datum.s)"}],"mark":{"type":"line","color":"#3CB371","strokeWidth":1,"strokeDash":[3,3]},"encoding":{"detail":{"field":"s"}}},
{"data":{"name":"dash"},"transform":[{"filter":"test(/^r/,datum.s)"}],"mark":{"type":"line","color":"#FF0000","strokeWidth":1,"strokeDash":[3,3]},"encoding":{"detail":{"field":"s"}}},
{"data":{"name":"dash"},"mark":{"type":"line","color":"#FFFF00","strokeWidth":1,"strokeDash":[2,10]},"encoding":{"detail":{"field":"s"}}},
{"data":{"name":"ma200"},"mark":{"type":"line","color":"#3CB371","strokeWidth":5},"encoding":{}},
{"data":{"name":"ma200"},"mark":{"type":"line","color":"#FF0000","strokeWidth":1.5},"encoding":{}},
{"data":{"values":[
{"s":"u","i":-0.04,"p":11541.75},{"s":"u","i":146.84,"p":11531.49},
{"s":"l","i":-0.04,"p":11439.69},{"s":"l","i":146.84,"p":11462.58}
]},"mark":{"type":"line","color":"#FF00FF","strokeWidth":2.5},"encoding":{"detail":{"field":"s"}}},
{"data":{"values":[
{"s":"a","i":36.1,"p":11505.2},{"s":"a","i":50.3,"p":11435.9},
{"s":"b","i":40,"p":11486.3},{"s":"b","i":41.1,"p":11475.1},{"s":"b","i":43,"p":11455.8},{"s":"b","i":44.8,"p":11435.9},
{"s":"c","i":74,"p":11538.5},{"s":"c","i":82.7,"p":11435.9},
{"s":"d","i":75,"p":11516.7},{"s":"d","i":84.8,"p":11553.0},
{"s":"e","i":81.1,"p":11521.1},{"s":"e","i":92.8,"p":11553.0}
]},"mark":{"type":"line","color":"#778899","strokeWidth":2.5},"encoding":{"detail":{"field":"s"}}},
{"data":{"values":[{"i":35.8,"p":11464.9},{"i":36.8,"p":11465.3},{"i":37.9,"p":11465.4},{"i":41.5,"p":11465.8},{"i":48.3,"p":11465.0},{"i":50,"p":11464.6}]},
"mark":{"type":"point","shape":"square","size":22,"filled":false,"color":"#FFC000","strokeWidth":1.2}},
{"data":{"values":[{"i":0.2,"p":11477.0},{"i":146.8,"p":11477.0}]},"mark":{"type":"point","shape":"square","size":16,"fill":"#FFFFFF","stroke":"#3CB371","opacity":1,"filled":true}},
{"data":{"values":[{"i":0.2,"p":11472.0},{"i":146.8,"p":11472.0}]},"mark":{"type":"point","shape":"square","size":16,"fill":"#FFFFFF","stroke":"#0000CD","opacity":1,"filled":true}},
{"data":{"values":[{"i":-0.0375,"i2":146.8375,"p":11553.04,"p2":11435.78}]},"mark":{"type":"rect","fillOpacity":0,"stroke":"#000000","strokeWidth":1.5},"encoding":{"x2":{"field":"i2"},"y2":{"field":"p2"}}},
{"data":{"values":[{"i":2.2,"p":11551.9,"t":"DE30,M5\u00a0\u00a011533.60 11544.80 11533.30 11542.10"},{"i":0.46,"p":11550.4,"t":"Copyright © 2016, Yannick Deubel, quivofx.com"},
{"i":0.2,"p":11525.8,"t":"R2"},{"i":0.2,"p":11524.8,"t":"Weekly S1"},{"i":0.2,"p":11508.5,"t":"RESISTANCE 1"},{"i":0.2,"p":11494.8,"t":"HIGH"},{"i":0.2,"p":11477.8,"t":"R1"},{"i":0.2,"p":11472.9,"t":"CBOL"},{"i":0.2,"p":11466.7,"t":"WEEKLY 200 MA"},{"i":0.2,"p":11446.8,"t":"PIVOT"},{"i":0.2,"p":11450.5,"t":"SUPPORT 1"},{"i":0.2,"p":11450.9,"t":"FUT Close"},{"i":0.2,"p":11542.8,"t":"21 DX4 MA (Sabbo)"}]},
"mark":{"type":"text","align":"left","baseline":"middle","fontSize":11,"color":"#000000"},"encoding":{"text":{"field":"t"}}},
{"data":{"values":[{"i":0.8,"p":11552.0,"t":"▼"}]},"mark":{"type":"text","align":"center","baseline":"middle","fontSize":9,"color":"#000000","dx":4},"encoding":{"text":{"field":"t"}}},
{"data":{"values":[{"i":0.1,"p":11514.8,"t":"RES 1"},{"i":0.1,"p":11468.7,"t":"NEUTRAL ZONE"}]},"mark":{"type":"text","align":"left","baseline":"middle","fontSize":15,"color":"#2A2A40"},"encoding":{"text":{"field":"t"}}},
{"data":{"values":[{"i":0.1,"p":11451.4,"t":"SUP 1"}]},"mark":{"type":"text","align":"left","baseline":"middle","fontSize":15,"color":"#6B8E23"},"encoding":{"text":{"field":"t"}}},
{"data":{"values":[{"i":22.1,"p":11509.5,"t":"FUT range"}]},"mark":{"type":"text","align":"left","baseline":"middle","fontSize":14.5,"color":"#3A2F9A"},"encoding":{"text":{"field":"t"}}},
{"data":{"values":[{"i":0.1,"p":11543.4,"t":"H4 x2 TPs Upper TL"}]},"mark":{"type":"text","align":"left","baseline":"middle","fontSize":14.3,"angle":4,"color":"#000000"},"encoding":{"text":{"field":"t"}}},
{"data":{"values":[{"i":0,"p":11441.3,"t":"H4 TL Lower x7 TPs"}]},"mark":{"type":"text","align":"left","baseline":"middle","fontSize":14.3,"angle":349,"color":"#000000"},"encoding":{"text":{"field":"t"}}},
{"data":{"values":[{"i":20.8,"p":11436.2,"t":"FUT OPEN"},{"i":33,"p":11436.2,"t":"CASH Open"}]},"mark":{"type":"text","align":"left","baseline":"middle","fontSize":11,"angle":270,"color":"#000000"},"encoding":{"text":{"field":"t"}}},
{"data":{"values":[{"i":36.6,"p":11505.8,"t":"FIB Intraday"}]},"mark":{"type":"text","align":"left","baseline":"middle","fontSize":14,"angle":90,"color":"#000000"},"encoding":{"text":{"field":"t"}}},
{"data":{"values":[{"i":54.9,"p":11533.3,"t":"150% Intraday"},{"i":54.9,"p":11527.0,"t":"138.4% Intraday"},{"i":54.9,"p":11519.1,"t":"123.6% Intraday"},{"i":54.9,"p":11506.5,"t":"Intraday High"},{"i":54.9,"p":11493.8,"t":"76.4%\u00a0\u00a0Intraday"},{"i":54.9,"p":11486.0,"t":"61.8% Intraday"},{"i":54.9,"p":11479.7,"t":"50%\u00a0\u00a0\u00a0\u00a0Intraday"},{"i":54.9,"p":11473.4,"t":"38.2%\u00a0\u00a0Intraday"},{"i":54.9,"p":11465.6,"t":"23.6%\u00a0\u00a0Intraday"},{"i":54.9,"p":11453.0,"t":"Intraday LOW"},{"i":54.9,"p":11440.4,"t":"-23.6% Intraday"}]},
"mark":{"type":"text","align":"right","baseline":"middle","fontSize":11.2,"color":"#2222EE"},"encoding":{"text":{"field":"t"}}},
{"data":{"values":[{"i":146.7,"p":11456.2,"t":"38.2%\u00a0\u00a015 Feb to 19 Mar"},{"i":146.7,"p":11450.1,"t":"76.4% CURRENT move"},{"i":146.7,"p":11506.5,"t":"CURRENT move\u00a0\u00a0High"}]},
"mark":{"type":"text","align":"right","baseline":"middle","fontSize":11.2,"color":"#FF00FF"},"encoding":{"text":{"field":"t"}}},
{"data":{"values":[{"i":146.7,"p":11505.5,"t":"23.6% last trend move"}]},"mark":{"type":"text","align":"right","baseline":"middle","fontSize":11.2,"color":"#8A2BE2"},"encoding":{"text":{"field":"t"}}},
{"data":{"values":[{"i":74,"p":11518.9,"t":"⇧"},{"i":39,"p":11470.8,"t":"☝"}]},"mark":{"type":"text","align":"center","baseline":"middle","fontSize":24,"color":"#FF3030"},"encoding":{"text":{"field":"t"}}},
{"data":{"values":[{"i":146.96,"i2":154.96,"p":11525.0,"k":"11525.00"}]},"mark":{"type":"bar","orient":"horizontal","size":14,"color":"#3CB371"},"encoding":{"x2":{"field":"i2"}}},
{"data":{"values":[{"i":146.96,"i2":154.96,"p":11525.0,"k":"11525.00"}]},"mark":{"type":"text","align":"left","baseline":"middle","fontSize":11,"color":"#FFFFFF","dx":6},"encoding":{"text":{"field":"k"}}},
{"data":{"values":[{"i":146.96,"i2":154.96,"p":11449.3,"k":"11449.62"}]},"mark":{"type":"bar","orient":"horizontal","size":14,"color":"#FF4500"},"encoding":{"x2":{"field":"i2"}}},
{"data":{"values":[{"i":146.96,"i2":154.96,"p":11449.3,"k":"11449.62"}]},"mark":{"type":"text","align":"left","baseline":"middle","fontSize":11,"color":"#FFFFFF","dx":6},"encoding":{"text":{"field":"k"}}},
{"data":{"values":[
{"i":146.96,"i2":154.96,"p":11544.1,"k":"11544.10","z":"a"},{"i":146.96,"i2":154.96,"p":11542.0,"k":"11542.00","z":"b"},{"i":146.96,"i2":154.96,"p":11524.0,"k":"11524.00","z":"d"},{"i":146.96,"i2":154.96,"p":11507.59,"k":"11507.59","z":"e"},{"i":146.96,"i2":154.96,"p":11494.0,"k":"11494.00","z":"f"},{"i":146.96,"i2":154.96,"p":11477.0,"k":"11477.00","z":"g"},{"i":146.96,"i2":154.96,"p":11472.0,"k":"11472.00","z":"h"},{"i":146.96,"i2":154.96,"p":11466.0,"k":"11466.00","z":"i"},{"i":146.96,"i2":154.96,"p":11450.0,"k":"11450.00","z":"l"},{"i":146.96,"i2":154.96,"p":11446.0,"k":"11446.00","z":"m"}
]},
"layer":[
{"mark":{"type":"bar","orient":"horizontal","size":14},
"encoding":{"x2":{"field":"i2"},
"color":{"field":"z","type":"nominal","legend":null,"scale":{"domain":["a","b","d","e","f","g","h","i","l","m"],"range":["#FFD700","#1E90FF","#FF0000","#32CD32","#000000","#3CB371","#0000FF","#1E90FF","#FF8C00","#FF00FF"]}}}},
{"mark":{"type":"text","align":"left","baseline":"middle","fontSize":11,"color":"#FFFFFF","dx":6},
"encoding":{"text":{"field":"k"}}}
]}
]
}
